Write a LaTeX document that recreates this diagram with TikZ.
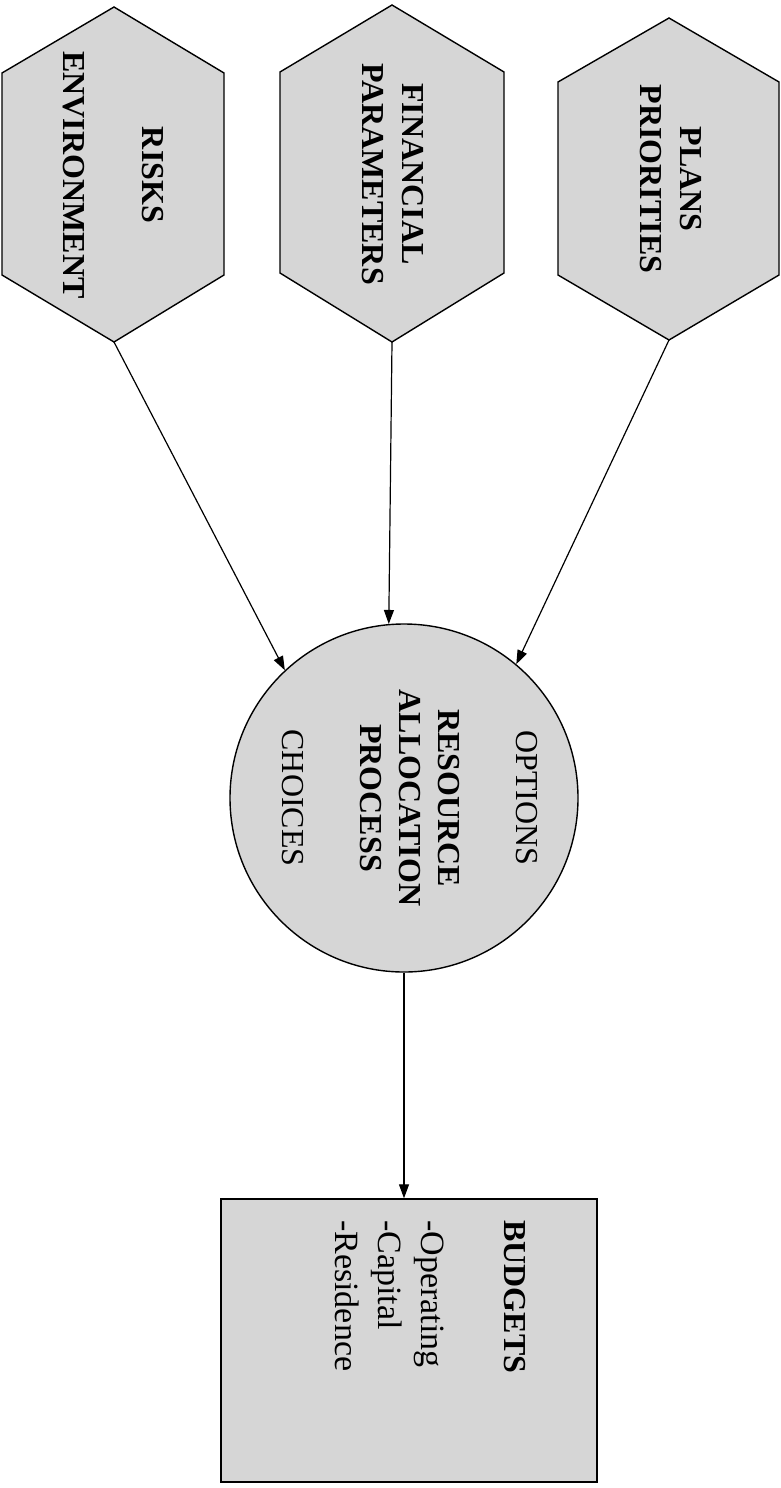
\documentclass[tikz,border=0pt]{standalone}
\usepackage{fontspec}
\setmainfont{Liberation Serif}
\usetikzlibrary{arrows.meta}
\begin{document}
\begin{tikzpicture}[x=1pt,y=-1pt,
  shapefill/.style={fill=black!16, draw=black, line width=1.4pt, line join=miter},
  hexlabel/.style={rotate=-90, align=center, inner sep=0pt, font=\fontsize{32}{39.5}\selectfont\bfseries},
  arr/.style={line width=1.2pt, -{Triangle[length=14pt,width=10pt]}}]
\useasboundingbox (0,0) rectangle (780,1488);
% hexagons
\coordinate (h1b) at (114,342);
\coordinate (h2b) at (392,342);
\coordinate (h3b) at (669,340);
\path[shapefill] (114,7) -- (224,73) -- (224,275) -- (h1b) -- (2,275) -- (2,73) -- cycle;
\path[shapefill] (392,5) -- (504,72) -- (504,273) -- (h2b) -- (280,273) -- (280,72) -- cycle;
\path[shapefill] (669,18) -- (779,82) -- (779,275) -- (h3b) -- (558,275) -- (558,82) -- cycle;
\node[hexlabel] (risks) at (113,175) {RISKS\\[39.5pt]ENVIRONMENT};
\node[hexlabel] (fin) at (393,174) {FINANCIAL\\PARAMETERS};
\node[hexlabel] (plans) at (671,179) {PLANS\\PRIORITIES};
% circle
\node[shapefill, circle, minimum size=348pt, inner sep=0pt] (rap) at (404,798) {};
\node[rotate=-90, align=center, inner sep=0pt, font=\fontsize{32}{39}\selectfont] (raptext) at (410,798)
  {OPTIONS\\[39pt]\textbf{RESOURCE}\\\textbf{ALLOCATION}\\\textbf{PROCESS}\\[39pt]CHOICES};
% budgets box
\node[shapefill, rectangle, minimum width=376pt, minimum height=283pt, inner sep=0pt] (bud) at (409,1340.5) {};
\node[rotate=-90, align=left, inner sep=0pt, anchor=north west, font=\fontsize{34}{43}\selectfont] (budtext) at (526,1220)
  {{\fontsize{32}{43}\selectfont\bfseries BUDGETS}\\[40pt]-Operating\\-Capital\\-Residence};
% connectors
\draw[arr] (h1b) -- (rap.133);
\draw[arr] (h2b) -- (rap.95);
\draw[arr] (h3b) -- (rap.50);
\draw[arr] (rap.south) -- (rap.south |- bud.north);
\end{tikzpicture}
\end{document}
